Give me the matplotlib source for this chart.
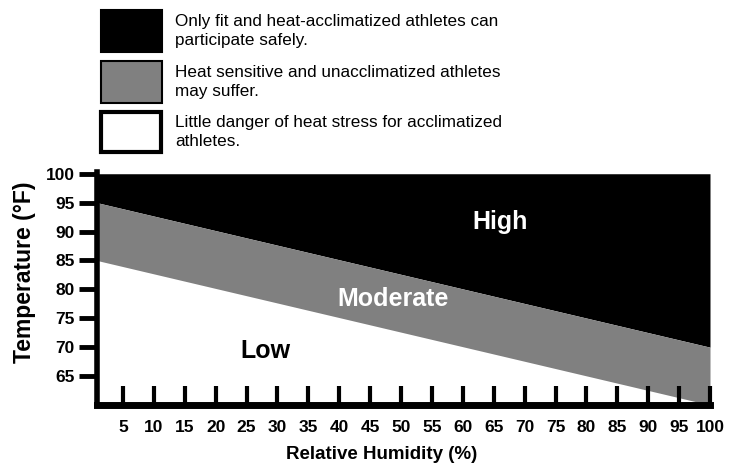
import matplotlib
matplotlib.use("Agg")
import matplotlib.pyplot as plt
from matplotlib.patches import Rectangle

plt.rcParams['font.family'] = ['Liberation Sans', 'DejaVu Sans']

# Data
humidity = [0.8, 100]          # relative humidity (%) at band edges
high_lower = [95, 70]          # boundary between High and Moderate (°F)
moderate_lower = [85, 60]      # boundary between Moderate and Low (°F)
temp_top = 100
x_ticks = [5, 10, 15, 20, 25, 30, 35, 40, 45, 50, 55, 60, 65, 70, 75, 80, 85, 90, 95, 100]
y_ticks = [65, 70, 75, 80, 85, 90, 95, 100]
legend_texts = [
    "Only fit and heat-acclimatized athletes can\nparticipate safely.",
    "Heat sensitive and unacclimatized athletes\nmay suffer.",
    "Little danger of heat stress for acclimatized\nathletes.",
]
legend_colors = ["black", "#808080", "white"]
zone_labels = ["High", "Moderate", "Low"]

fig = plt.figure(figsize=(7.4, 4.71), dpi=100)
ax = fig.add_axes([97/740, 1-405/471, (710-97)/740, (405-172)/471])

ax.fill_between(humidity, high_lower, [temp_top]*2, color="black", lw=0)
ax.fill_between(humidity, moderate_lower, high_lower, color="#808080", lw=0)
ax.set_xlim(humidity[0], humidity[1])
ax.set_ylim(60, 100.3)

for s in ["top", "right"]:
    ax.spines[s].set_visible(False)
ax.spines["left"].set_linewidth(4)
ax.spines["bottom"].set_linewidth(5)

ax.set_xticks(x_ticks)
ax.set_xticklabels([str(v) for v in x_ticks], fontsize=12.5, fontweight="bold")
ax.set_yticks(y_ticks)
ax.set_yticklabels([str(v) for v in y_ticks], fontsize=12.5, fontweight="bold")
ax.tick_params(axis="x", direction="in", length=14, width=3, pad=11)
ax.tick_params(axis="y", direction="out", length=13, width=3.5, pad=3)

ax.set_xlabel("Relative Humidity (%)", fontsize=13.5, fontweight="bold")
ax.xaxis.set_label_coords((382-97)/(710-97), -(446-405)/(405-172))
ax.set_ylabel("Temperature (°F)", fontsize=16.5, fontweight="bold")
ax.yaxis.set_label_coords(-(97-36)/(710-97), (405-272)/(405-172))

ax.text(66, 91.6, zone_labels[0], color="white", fontsize=18, fontweight="bold", ha="center", va="center")
ax.text(48.7, 78.4, zone_labels[1], color="white", fontsize=18, fontweight="bold", ha="center", va="center")
ax.text(28, 69.4, zone_labels[2], color="black", fontsize=18, fontweight="bold", ha="center", va="center")

# Legend drawn in figure pixel coordinates
boxes = [(101, 10, 61, 42), (101, 61, 61, 42), (101, 112, 60, 40)]
edge_widths = [1.5, 1.5, 3]
for (bx, by, bw, bh), col, ew, txt in zip(boxes, legend_colors, edge_widths, legend_texts):
    fig.patches.append(Rectangle((bx/740, 1-(by+bh)/471), bw/740, bh/471,
                                 transform=fig.transFigure, facecolor=col,
                                 edgecolor="black", lw=ew))
    fig.text(175/740, 1-(by+bh/2)/471, txt, fontsize=12.3, ha="left", va="center",
             linespacing=1.3)

fig.savefig("out.png", dpi=100)
